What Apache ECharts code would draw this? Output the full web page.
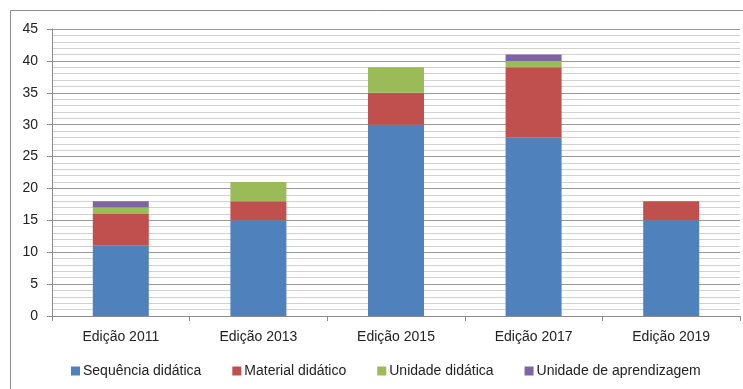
<!DOCTYPE html>
<html>
<head>
<meta charset="utf-8">
<script src="https://cdn.jsdelivr.net/npm/echarts@6/dist/echarts.min.js"></script>
<style>
html,body{margin:0;padding:0;background:#fff;}
#chart{width:743px;height:389px;}
</style>
</head>
<body>
<div id="chart"></div>
<script>
// Trabalhos por edição, empilhados por tipo de produto
const categories = ['Edição 2011', 'Edição 2013', 'Edição 2015', 'Edição 2017', 'Edição 2019'];
const sequencia = [11, 15, 30, 28, 15];
const material = [5, 3, 5, 11, 3];
const unidade = [1, 3, 4, 1, 0];
const aprendizagem = [1, 0, 0, 1, 0];
const yTicks = [0, 5, 10, 15, 20, 25, 30, 35, 40, 45];

const FONT = 'Liberation Sans';
const chart = echarts.init(document.getElementById('chart'));

function stackSeries(name, data, color) {
  return {
    name: name,
    type: 'bar',
    stack: 'total',
    barWidth: 56,
    data: data.map(v => (v === 0 ? null : v)),
    itemStyle: { color: color },
    emphasis: { disabled: true }
  };
}

chart.setOption({
  animation: false,
  textStyle: { fontFamily: FONT },
  graphic: [{
    type: 'rect',
    shape: { x: 10.5, y: 10.5, width: 740, height: 400 },
    style: { fill: 'none', stroke: '#8c8c8c', lineWidth: 1 },
    silent: true
  }],
  grid: { left: 52, right: 3, top: 29, bottom: 73, containLabel: false },
  legend: {
    bottom: 6,
    left: 66,
    itemWidth: 9,
    itemHeight: 9,
    itemGap: 31,
    icon: 'rect',
    textStyle: { fontFamily: FONT, fontSize: 14, color: '#222', padding: [0, 0, 0, -2] },
    data: ['Sequência didática', 'Material didático', 'Unidade didática', 'Unidade de aprendizagem']
  },
  xAxis: {
    type: 'category',
    data: categories,
    axisLine: { lineStyle: { color: '#8c8c8c' } },
    axisTick: { show: true, length: 5, alignWithLabel: false, lineStyle: { color: '#8c8c8c' } },
    axisLabel: { fontFamily: FONT, fontSize: 14, color: '#222', margin: 14 }
  },
  yAxis: {
    type: 'value',
    min: yTicks[0],
    max: yTicks[yTicks.length - 1],
    interval: 5,
    axisLine: { show: true, lineStyle: { color: '#8c8c8c' } },
    axisTick: { show: true, length: 5, lineStyle: { color: '#8c8c8c' } },
    axisLabel: { fontFamily: FONT, fontSize: 14, color: '#222', margin: 14 },
    splitLine: { show: true, lineStyle: { color: '#9a9a9a', width: 1 } },
    minorTick: { show: false, splitNumber: 5 },
    minorSplitLine: { show: true, lineStyle: { color: '#d2d2d2', width: 1 } }
  },
  series: [
    stackSeries('Sequência didática', sequencia, '#4F81BD'),
    stackSeries('Material didático', material, '#C0504D'),
    stackSeries('Unidade didática', unidade, '#9BBB59'),
    stackSeries('Unidade de aprendizagem', aprendizagem, '#8064A2')
  ]
});
</script>
</body>
</html>
